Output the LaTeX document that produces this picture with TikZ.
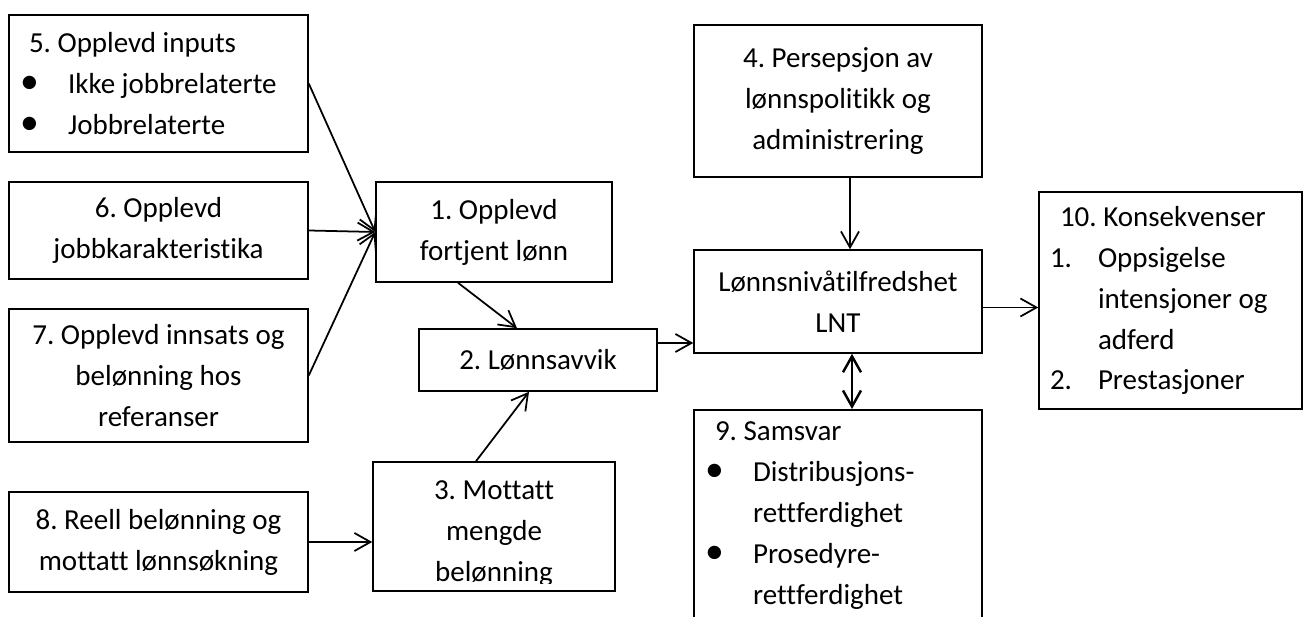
\documentclass[tikz,border=0pt]{standalone}
\usepackage{fontspec}
\setmainfont{Carlito}[Ligatures={NoCommon}]
\usetikzlibrary{arrows.meta, calc}
\newcommand{\bitem}{\makebox[0.96cm][l]{\scalebox{1.3}{\textbullet}}}
\newcommand{\nitem}[1]{\makebox[0.96cm][l]{#1}}

\begin{document}
\frenchspacing
\begin{tikzpicture}[x=0.02cm, y=-0.02cm,
    font=\fontsize{16.5}{23.3}\selectfont,
    box/.style={draw, line width=0.9pt, inner sep=0pt, align=center},
    listbox/.style={box, align=flush left, inner xsep=0.22cm},
    conn/.style={line width=1pt, -{Straight Barb[length=3.2mm, width=3.6mm]}},
    dconn/.style={line width=1.4pt, {Straight Barb[length=3.2mm, width=3.6mm]}-{Straight Barb[length=3.2mm, width=3.6mm]}}]
    \useasboundingbox (0,0) rectangle (1306,617);
    \clip (0,0) rectangle (1306,617);

    % LEFT: Inputs
    \node[listbox, text width=5.54cm, minimum height=2.74cm] (box5) at (158.5,83.5)
        {\hspace*{0.18cm}5. Opplevd inputs\\ \bitem Ikke jobbrelaterte\\ \bitem Jobbrelaterte};
    \node[box, minimum width=5.98cm, minimum height=1.94cm] (box6) at (158.5,230.5) {6. Opplevd\\jobbkarakteristika};
    \node[box, minimum width=5.98cm, minimum height=2.66cm] (box7) at (158.5,375.5) {7. Opplevd innsats og\\belønning hos\\referanser};
    \node[box, minimum width=5.98cm, minimum height=2.0cm] (box8) at (158.5,542) {8. Reell belønning og\\mottatt lønnsøkning};

    % MIDDLE: Comparison
    \node[box, minimum width=4.72cm, minimum height=2.0cm] (box1) at (494,232) {1. Opplevd\\fortjent lønn};
    \node[box, minimum width=4.76cm, minimum height=1.24cm] (box2) at (538,360) {2. Lønnsavvik};
    \node[box, minimum width=4.84cm, minimum height=2.58cm] (box3) at (494,526.5) {};
    \begin{scope}
        \clip (box3.north west) rectangle ([yshift=0.16cm]box3.south east);
        \node[inner sep=0pt, align=center, anchor=north] (box3txt) at ([yshift=-0.38cm]box3.north) {3. Mottatt\\mengde\\belønning};
    \end{scope}

    % RIGHT: Satisfaction
    \node[box, minimum width=5.76cm, minimum height=3.04cm] (box4) at (838,101) {4. Persepsjon av\\lønnspolitikk og\\administrering};
    \node[box, minimum width=5.76cm, minimum height=2.06cm] (lnt) at (838,301.5) {Lønnsnivåtilfredshet\\LNT};
    \node[listbox, text width=5.32cm, minimum height=4.24cm, anchor=north] (box9) at (838,409)
        {\hspace*{0.2cm}9. Samsvar\\ \bitem Distribusjons-\\ \nitem{}rettferdighet\\ \bitem Prosedyre-\\ \nitem{}rettferdighet};
    \node[listbox, text width=4.82cm, minimum height=4.34cm] (box10) at (1170.5,300.5)
        {\hspace*{0.2cm}10. Konsekvenser\\ \nitem{1.}Oppsigelse\\ \nitem{}intensjoner og\\ \nitem{}adferd\\ \nitem{2.}Prestasjoner};

    % Arrows
    \draw[conn] (box5.east) -- (box1.west);
    \draw[conn] (box6.east) -- (box1.west);
    \draw[conn] (box7.east) -- (box1.west);
    \draw[conn] ($(box1.south)+(-36,0)$) -- ($(box2.north)+(-21,0)$);
    \draw[conn] ($(box3.north)+(-18,0)$) -- ($(box2.south)+(-9,0)$);
    \draw[conn] (box8.east) -- (box8.east -| box3.west);
    \coordinate (c2) at ($(box2.east)+(0,-17)$);
    \draw[conn] (c2) -- (c2 -| lnt.west);
    \coordinate (c4) at ($(box4.south)+(12,0)$);
    \draw[conn] (c4) -- (c4 |- lnt.north);
    \coordinate (c9) at ($(lnt.south)+(14,0)$);
    \draw[dconn] (c9) -- (c9 |- box9.north);
    \coordinate (c10) at ($(lnt.east)+(0,6)$);
    \draw[conn] (c10) -- (c10 -| box10.west);
\end{tikzpicture}
\end{document}
